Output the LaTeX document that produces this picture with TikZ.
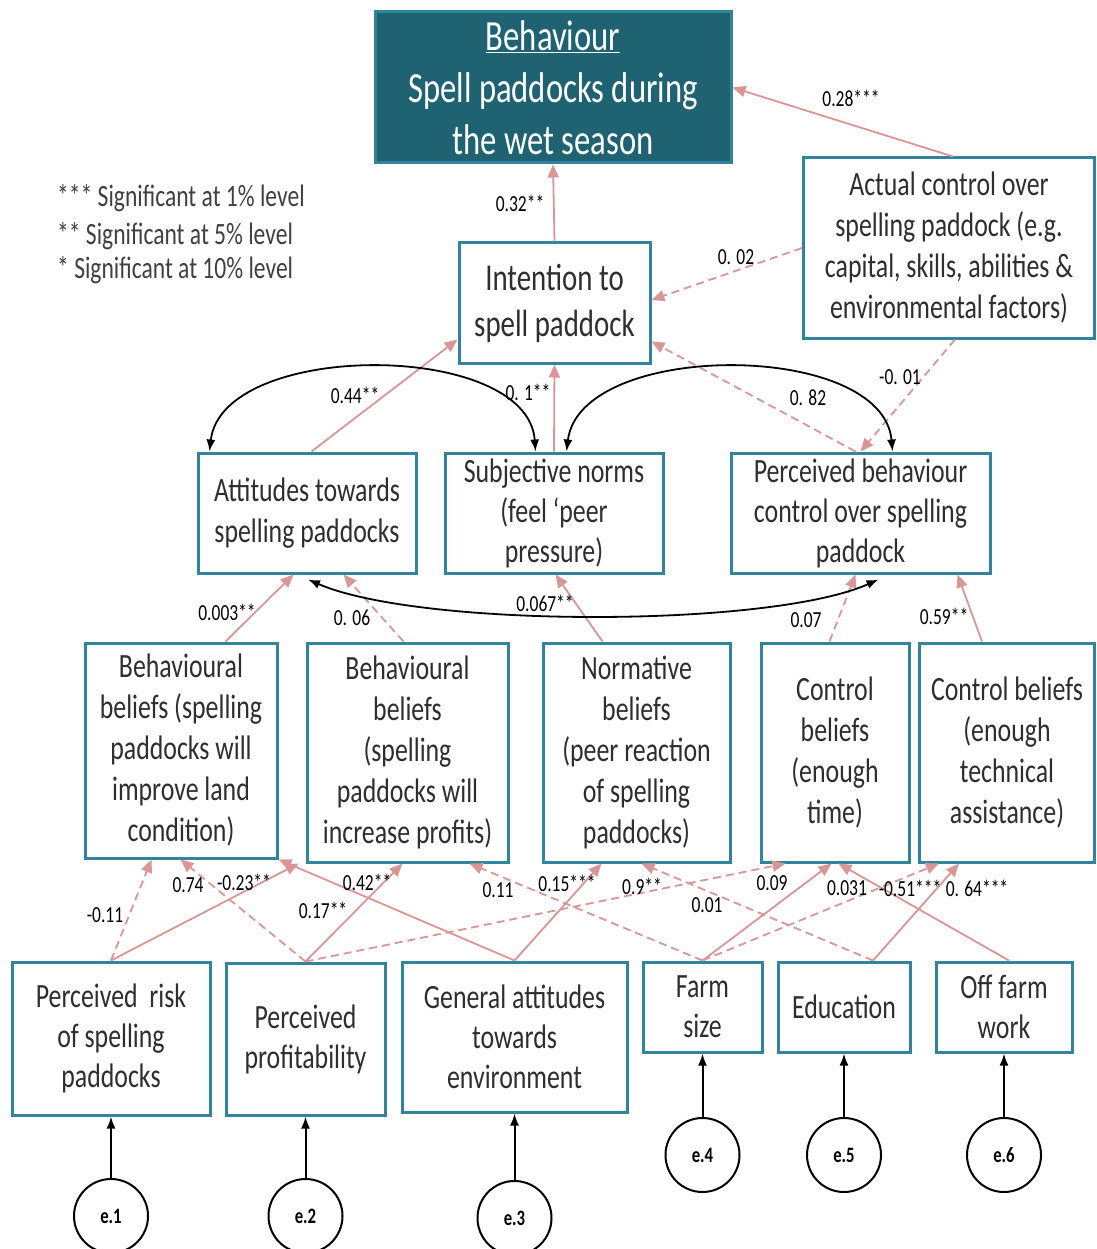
\documentclass[tikz,border=0pt]{standalone}
\usepackage{fontspec}
\setmainfont{Carlito}[FakeStretch=0.76]
\usetikzlibrary{arrows.meta,calc}
\definecolor{boxc}{HTML}{31849B}
\definecolor{behfill}{HTML}{1F6373}
\definecolor{pathc}{HTML}{DA9694}
\definecolor{txt}{HTML}{2E2E2E}
\definecolor{legc}{HTML}{404040}

\begin{document}
\begin{tikzpicture}[x=1pt,y=-1pt,
  box/.style={draw=boxc, line width=3pt, fill=white, text=txt, align=center,
    inner sep=0pt, font=\fontsize{34}{41}\selectfont},
  sig/.style={draw=pathc, line width=1.8pt, -{Triangle[length=13pt,width=11pt]}},
  nsig/.style={sig, dash pattern=on 8pt off 5pt},
  cov/.style={draw=black, line width=1.8pt,
    {Latex[length=12pt,width=9pt]}-{Latex[length=12pt,width=9pt]}},
  coef/.style={text=black, font=\fontsize{23}{26}\selectfont, inner sep=0pt},
  legend/.style={text=legc, font=\fontsize{31}{34}\selectfont, inner sep=0pt, anchor=west},
  err/.style={circle, draw=black, line width=2pt, fill=white, minimum size=74pt,
    inner sep=0pt, font=\fontsize{22}{24}\selectfont\bfseries},
  errarrow/.style={draw=black, line width=2pt, -{Latex[length=12pt,width=9pt]}},
]
\useasboundingbox[fill=white] (0,0) rectangle (1096,1249);

% ---------- outcome, intention and actual control ----------
\node[box, fill=behfill, text=white, minimum width=356pt, minimum height=151pt,
  font=\fontsize{43}{52}\selectfont] (BEH) at (553,87.5)
  {\underline{Behaviour}\\Spell paddocks during\\the wet season};
\node[box, minimum width=291pt, minimum height=180pt] (AC) at (949,248)
  {Actual control over\\spelling paddock (e.g.\\capital, skills, abilities \&\\environmental factors)};
\node[box, minimum width=191pt, minimum height=120pt, font=\fontsize{38}{46}\selectfont]
  (INT) at (554.5,303) {Intention to\\spell paddock};

% ---------- TPB constructs ----------
\node[box, minimum width=218pt, minimum height=120pt] (ATT) at (307,513)
  {Attitudes towards\\spelling paddocks};
\node[box, minimum width=218pt, minimum height=120pt, font=\fontsize{34}{40}\selectfont]
  (SN) at (554,513) {Subjective norms\\(feel ‘peer\\pressure)};
\node[box, minimum width=259pt, minimum height=120pt, font=\fontsize{34}{40}\selectfont]
  (PBC) at (860.5,513) {Perceived behaviour\\control over spelling\\paddock};

% ---------- beliefs ----------
\node[box, minimum width=192pt, minimum height=215pt] (BB1) at (181,750.5)
  {Behavioural\\beliefs (spelling\\paddocks will\\improve land\\condition)};
\node[box, minimum width=201pt, minimum height=219pt] (BB2) at (407.5,752.5)
  {Behavioural\\beliefs\\(spelling\\paddocks will\\increase profits)};
\node[box, minimum width=187pt, minimum height=219pt] (NB) at (636.5,752.5)
  {Normative\\beliefs\\(peer reaction\\of spelling\\paddocks)};
\node[box, minimum width=148pt, minimum height=219pt] (CB1) at (835,752.5)
  {Control\\beliefs\\(enough\\time)};
\node[box, minimum width=175pt, minimum height=219pt] (CB2) at (1007,752.5)
  {Control beliefs\\(enough\\technical\\assistance)};

% ---------- background factors ----------
\node[box, minimum width=198pt, minimum height=153pt, font=\fontsize{34}{40}\selectfont]
  (PR) at (111,1038.5) {Perceived\ \ risk\\of spelling\\paddocks};
\node[box, minimum width=159pt, minimum height=152pt, font=\fontsize{34}{40}\selectfont]
  (PP) at (305.5,1039) {Perceived\\profitability};
\node[box, minimum width=225pt, minimum height=150pt, font=\fontsize{34}{40}\selectfont]
  (GA) at (514.5,1037) {General attitudes\\towards\\environment};
\node[box, minimum width=119pt, minimum height=90pt, font=\fontsize{34}{40}\selectfont]
  (FS) at (702.5,1007) {Farm\\size};
\node[box, minimum width=132pt, minimum height=90pt] (ED) at (844,1007) {Education};
\node[box, minimum width=136pt, minimum height=90pt, font=\fontsize{34}{40}\selectfont]
  (OF) at (1004,1007) {Off farm\\work};

% ---------- error terms ----------
\node[err] (E1) at (111,1216) {e.1};
\node[err] (E2) at (305.5,1216) {e.2};
\node[err] (E3) at (514.5,1218) {e.3};
\node[err] (E4) at (702.5,1155) {e.4};
\node[err] (E5) at (844,1155) {e.5};
\node[err] (E6) at (1004,1155) {e.6};
\foreach \e/\b in {E1/PR,E2/PP,E3/GA,E4/FS,E5/ED,E6/OF}
  \draw[errarrow] (\e.north) -- (\b.south);

% ---------- legend ----------
\node[legend] (LEG1) at (57,198) {*** Significant at 1\% level};
\node[legend] (LEG2) at (57,236) {** Significant at 5\% level};
\node[legend] (LEG3) at (57,270) {* Significant at 10\% level};

% ---------- structural paths ----------
\draw[sig] (INT.north) -- (BEH.south);
\draw[sig] ($(AC.north)+(4,0)$) -- (BEH.east);
\draw[nsig] (AC.west) -- ($(INT.east)+(0,-3)$);
\draw[nsig] ($(AC.south)+(6,0)$) -- ($(PBC.north west)+(131,0)$);
\draw[sig] ($(ATT.north west)+(115,0)$) -- ($(INT.south west)+(0,-25)$);
\draw[sig] (SN.north) -- (INT.south);
\draw[nsig] ($(PBC.north west)+(126,0)$) -- ($(INT.south east)+(0,-23)$);

\draw[cov] ($(ATT.north west)+(13,0)$) .. controls (222,340) and (528,340) .. ($(SN.north west)+(92,0)$);
\draw[cov] ($(SN.north west)+(123,0)$) .. controls (580,340) and (883,340) .. ($(PBC.north west)+(163,0)$);

% beliefs to constructs
\draw[sig] ($(BB1.north west)+(142,0)$) -- ($(ATT.south west)+(97,0)$);
\draw[nsig] ($(BB2.north west)+(98,0)$) -- ($(ATT.south west)+(147,0)$);
\draw[sig] ($(NB.north west)+(61,0)$) -- ($(SN.south west)+(112,0)$);
\draw[nsig] ($(CB1.north west)+(70,0)$) -- ($(PBC.south west)+(126,0)$);
\draw[sig] ($(CB2.north west)+(64,0)$) -- ($(PBC.south west)+(228,0)$);
\draw[cov] ($(ATT.south)+(1,5)$) .. controls (420,628) and (770,628) .. ($(PBC.south)+(18,5)$);

% background factors to beliefs
\draw[nsig] (PR.north) -- ($(BB1.south west)+(68,0)$);
\draw[sig] (PR.north) -- ($(BB2.south west)+(-7,0)$);
\draw[nsig] (PP.north) -- ($(BB1.south west)+(97,0)$);
\draw[sig] (PP.north) -- ($(BB2.south west)+(97,0)$);
\draw[nsig] (PP.north) -- ($(CB1.south west)+(26,0)$);
\draw[sig] (GA.north) -- (BB1.south east);
\draw[sig] (GA.north) -- ($(NB.south west)+(60,0)$);
\draw[nsig] (FS.north) -- ($(BB2.south east)+(-40,0)$);
\draw[sig] (FS.north) -- ($(CB1.south west)+(72,0)$);
\draw[nsig] (FS.north) -- ($(CB2.south west)+(21,0)$);
\draw[nsig] ($(ED.north)+(29,0)$) -- ($(NB.south west)+(100,0)$);
\draw[sig] ($(ED.north)+(29,0)$) -- ($(CB2.south west)+(41,0)$);
\draw[sig] ($(OF.north)+(5,0)$) -- ($(CB1.south west)+(79,0)$);

% ---------- coefficients ----------
\node[coef] (c01) at (851,98) {0.28***};
\node[coef] (c02) at (520,203) {0.32**};
\node[coef] (c03) at (736,257) {0. 02};
\node[coef] (c04) at (355,395) {0.44**};
\node[coef] (c05) at (528,392) {0. 1**};
\node[coef] (c06) at (808,398) {0. 82};
\node[coef] (c07) at (900,377) {-0. 01};
\node[coef] (c08) at (227,612) {0.003**};
\node[coef] (c09) at (352,618) {0. 06};
\node[coef] (c10) at (545,603) {0.067**};
\node[coef] (c11) at (806,620) {0.07};
\node[coef] (c12) at (944,616) {0.59**};
\node[coef] (c13) at (105,915) {-0.11};
\node[coef] (c14) at (188,885) {0.74};
\node[coef] (c15) at (244,882) {-0.23**};
\node[coef] (c16) at (367,882) {0.42**};
\node[coef] (c17) at (323,910) {0.17**};
\node[coef] (c18) at (498,890) {0.11};
\node[coef] (c19) at (567,883) {0.15***};
\node[coef] (c20) at (642,886) {0.9**};
\node[coef] (c21) at (707,905) {0.01};
\node[coef] (c22) at (772,883) {0.09};
\node[coef] (c23) at (847,888) {0.031};
\node[coef] (c24) at (910,888) {-0.51***};
\node[coef] (c25) at (977,888) {0. 64***};
\end{tikzpicture}
\end{document}
